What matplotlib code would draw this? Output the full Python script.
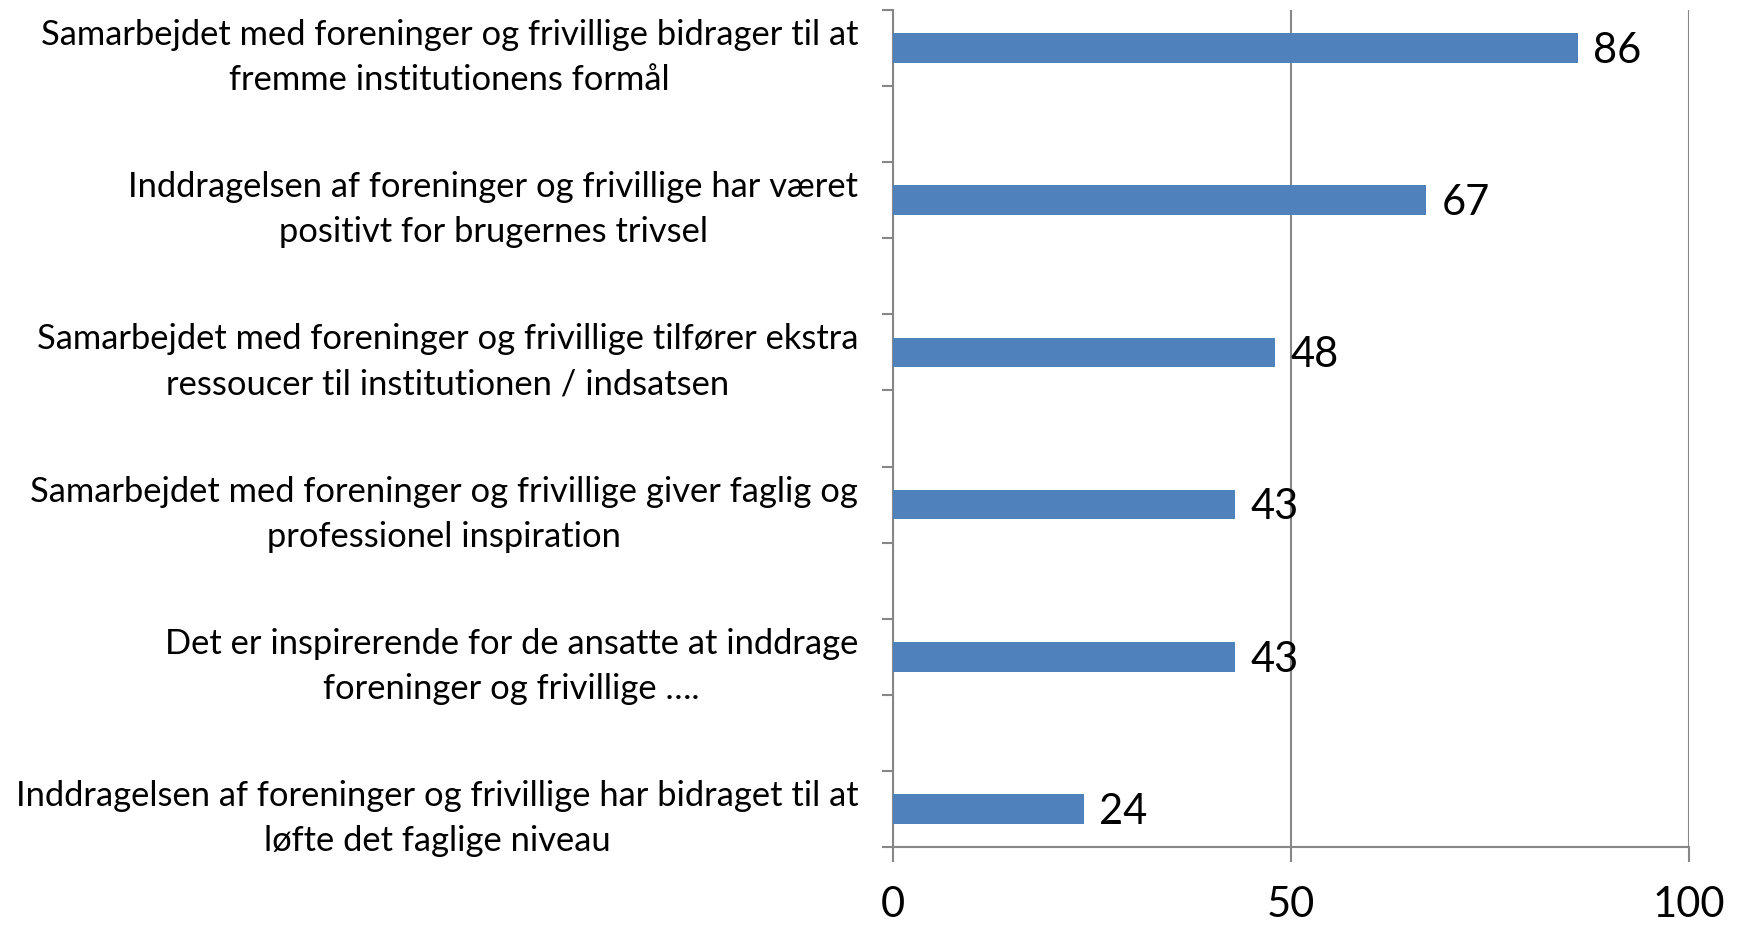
import matplotlib
matplotlib.use('Agg')
import matplotlib.pyplot as plt
from matplotlib.ticker import FixedLocator

# udsagn (øverst først) og andel i procent
labels = [
    'Samarbejdet med foreninger og frivillige bidrager til at\nfremme institutionens formål',
    'Inddragelsen af foreninger og frivillige har været\npositivt for brugernes trivsel',
    'Samarbejdet med foreninger og frivillige tilfører ekstra\nressoucer til institutionen / indsatsen',
    'Samarbejdet med foreninger og frivillige giver faglig og\nprofessionel inspiration',
    'Det er inspirerende for de ansatte at inddrage\nforeninger og frivillige ….',
    'Inddragelsen af foreninger og frivillige har bidraget til at\nløfte det faglige niveau',
]
values = [86, 67, 48, 43, 43, 24]
xticks = [0, 50, 100]

plt.rcParams['font.family'] = ['Lato', 'DejaVu Sans']
bar_color = '#4F81BD'
axis_color = '#878787'

fig = plt.figure(figsize=(17.4, 9.25), dpi=100)
ax = fig.add_axes([0.5132, 0.0843, 0.4575, 0.9049])

# hver søjle står i hvert andet felt (tomme felter imellem, som i Excel-figuren)
pos = [2 * i for i in range(len(values))]
nslots = 2 * len(values) - 1
ax.barh(pos, values, height=0.39, color=bar_color, zorder=3)
ax.set_ylim(nslots - 0.5, -0.5)
ax.set_xlim(0, 100)

for p, v in zip(pos, values):
    ax.annotate(str(v), (v, p), xytext=(11, -2), textcoords='offset points',
                va='center', ha='left', fontsize=30)

# y-akse: streger mellem felterne, tekst ud for søjlerne
ax.yaxis.set_major_locator(FixedLocator([i - 0.5 for i in range(nslots + 1)]))
ax.yaxis.set_minor_locator(FixedLocator(pos))
ax.set_yticklabels([], minor=False)
ax.set_yticklabels(labels, minor=True, fontsize=24.8, multialignment='center',
                   linespacing=1.5)
ax.tick_params(axis='y', which='major', length=8, width=1.5, color=axis_color, direction='out')
ax.tick_params(axis='y', which='minor', length=0, pad=25)

ax.set_xticks(xticks)
ax.set_xticklabels([str(t) for t in xticks], fontsize=30)
ax.tick_params(axis='x', length=11, width=1.5, color=axis_color, pad=17)
ax.xaxis.grid(True, color=axis_color, linewidth=1.5, zorder=0)

for s in ['top', 'right']:
    ax.spines[s].set_visible(False)
for s in ['left', 'bottom']:
    ax.spines[s].set_color(axis_color)
    ax.spines[s].set_linewidth(1.5)

fig.savefig('out.png', dpi=100)
